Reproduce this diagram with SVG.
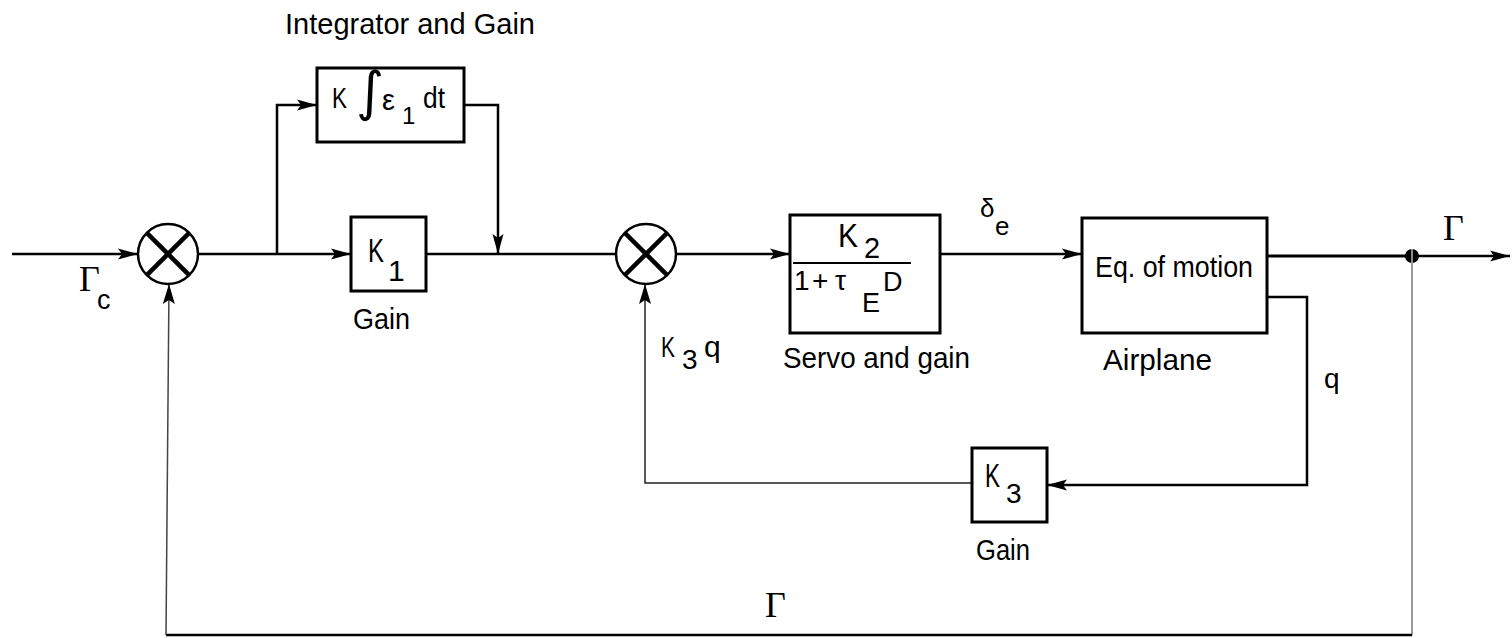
<svg xmlns="http://www.w3.org/2000/svg" width="1512" height="638" viewBox="0 0 1512 638">
<style>
.t{font-family:"Liberation Sans",Arial,sans-serif;font-size:30px;fill:#000}
.g{font-family:"Liberation Serif","Times New Roman",serif;font-size:36px;fill:#000}
.box{fill:#fff;stroke:#000;stroke-width:3}
.ln{fill:none;stroke:#000;stroke-width:2.5}
.thin{fill:none;stroke:#222;stroke-width:1.5}
.gray{fill:none;stroke:#999;stroke-width:2}
.sum{fill:#fff;stroke:#000;stroke-width:2.5}
.x{stroke:#000;stroke-width:4.5}
</style>
<defs>
<marker id="ah" markerUnits="userSpaceOnUse" markerWidth="22" markerHeight="12" refX="20" refY="6" orient="auto">
<path d="M0,0.5 L20,6 L0,11.5 L4,6 Z" fill="#000"/>
</marker>
<marker id="ahs" markerUnits="userSpaceOnUse" markerWidth="22" markerHeight="14" refX="20" refY="7" orient="auto">
<path d="M0,1 L20,7 L0,13 L4,7 Z" fill="#000"/>
</marker>
</defs>

<g id="connectors">
<line class="ln" x1="12" y1="254" x2="138" y2="254" marker-end="url(#ah)"/>
<line class="ln" x1="198" y1="254" x2="351" y2="254" marker-end="url(#ah)"/>
<polyline class="ln" points="277,254 277,105 317,105" marker-end="url(#ah)"/>
<polyline class="ln" points="464,105 498,105 498,254" marker-end="url(#ah)"/>
<line class="ln" x1="426" y1="254" x2="616" y2="254"/>
<line class="ln" x1="676" y1="254" x2="790" y2="254" marker-end="url(#ah)"/>
<line class="ln" x1="940" y1="254" x2="1082" y2="254" marker-end="url(#ah)"/>
<line class="ln" x1="1267" y1="256" x2="1412" y2="256" style="stroke-width:3"/>
<line class="ln" x1="1412" y1="256" x2="1510" y2="256" marker-end="url(#ah)"/>
<polyline class="ln" points="1267,297 1307,297 1307,485 1047,485" marker-end="url(#ah)"/>
<polyline class="thin" points="972,483 645,483 645,284" marker-end="url(#ahs)"/>
<line class="gray" x1="1412" y1="249" x2="1412" y2="635"/>
<polyline class="ln" points="1412,635 166,635"/>
<polyline class="thin" points="166,635 169,284" marker-end="url(#ahs)" style="stroke:#444"/>
<circle cx="1412" cy="256" r="7" fill="#000"/>
<line x1="1412" y1="249" x2="1412" y2="263" stroke="#bbb" stroke-width="1.5"/>
</g>

<g id="sum1">
<circle class="sum" cx="168" cy="254" r="30"/>
<line class="x" x1="146.8" y1="232.8" x2="189.2" y2="275.2"/>
<line class="x" x1="189.2" y1="232.8" x2="146.8" y2="275.2"/>
</g>

<g id="sum2">
<circle class="sum" cx="646" cy="254" r="30"/>
<line class="x" x1="624.8" y1="232.8" x2="667.2" y2="275.2"/>
<line class="x" x1="667.2" y1="232.8" x2="624.8" y2="275.2"/>
</g>

<g id="integrator">
<rect class="box" x="317" y="68" width="147" height="74"/>
<text class="t" x="332" y="108" style="font-size:29px"><tspan textLength="15" lengthAdjust="spacingAndGlyphs">K</tspan><tspan x="356" y="110" style="font-family:'DejaVu Sans',sans-serif;font-size:54px">∫</tspan><tspan x="382" y="110">ε</tspan><tspan x="402" y="124" style="font-size:24px">1</tspan><tspan x="423" y="108" textLength="22" lengthAdjust="spacingAndGlyphs">dt</tspan></text>
<text class="t" x="285" y="34" textLength="250" lengthAdjust="spacingAndGlyphs">Integrator and Gain</text>
</g>

<g id="k1">
<rect class="box" x="351" y="217" width="75" height="74"/>
<text class="t" x="368" y="262" style="font-size:33px"><tspan textLength="16" lengthAdjust="spacingAndGlyphs">K</tspan><tspan x="388" y="281" style="font-size:30px">1</tspan></text>
<text class="t" x="353" y="329" textLength="57" lengthAdjust="spacingAndGlyphs">Gain</text>
</g>

<g id="servo">
<rect class="box" x="790" y="215" width="150" height="118"/>
<line x1="793" y1="263" x2="911" y2="263" stroke="#000" stroke-width="2"/>
<text class="t" x="838" y="247" style="font-size:33px"><tspan textLength="20" lengthAdjust="spacingAndGlyphs">K</tspan><tspan x="864" y="258" style="font-size:29px">2</tspan></text>
<text class="t" x="794" y="290" style="font-size:28px">1<tspan x="812">+</tspan><tspan x="835">τ</tspan><tspan x="862" y="312" style="font-size:27px">E</tspan><tspan x="883" y="291" style="font-size:27px">D</tspan></text>
<text class="t" x="783" y="368" textLength="187" lengthAdjust="spacingAndGlyphs">Servo and gain</text>
</g>

<g id="airplane">
<rect class="box" x="1082" y="218" width="185" height="115"/>
<text class="t" x="1095" y="277" textLength="158" lengthAdjust="spacingAndGlyphs">Eq. of motion</text>
<text class="t" x="1103" y="370" textLength="109" lengthAdjust="spacingAndGlyphs">Airplane</text>
</g>

<g id="k3">
<rect class="box" x="972" y="448" width="75" height="74"/>
<text class="t" x="985" y="487" style="font-size:33px"><tspan textLength="15" lengthAdjust="spacingAndGlyphs">K</tspan><tspan x="1006" y="503" style="font-size:28px">3</tspan></text>
<text class="t" x="976" y="560" textLength="54" lengthAdjust="spacingAndGlyphs">Gain</text>
</g>

<g id="labels">
<text class="g" x="79" y="291">Γ<tspan x="97" y="309" style="font-family:'Liberation Sans',Arial,sans-serif;font-size:27px">c</tspan></text>
<text class="t" x="980" y="217" style="font-size:26px">δ<tspan x="995" y="235">e</tspan></text>
<text class="t" x="661" y="357"><tspan textLength="14" lengthAdjust="spacingAndGlyphs">K</tspan><tspan x="682" y="369" style="font-size:28px">3</tspan><tspan x="704" y="357">q</tspan></text>
<text class="t" x="1324" y="388" style="font-size:28px">q</text>
<text class="g" x="1443" y="240">Γ</text>
<text class="g" x="765" y="617">Γ</text>
</g>
</svg>
